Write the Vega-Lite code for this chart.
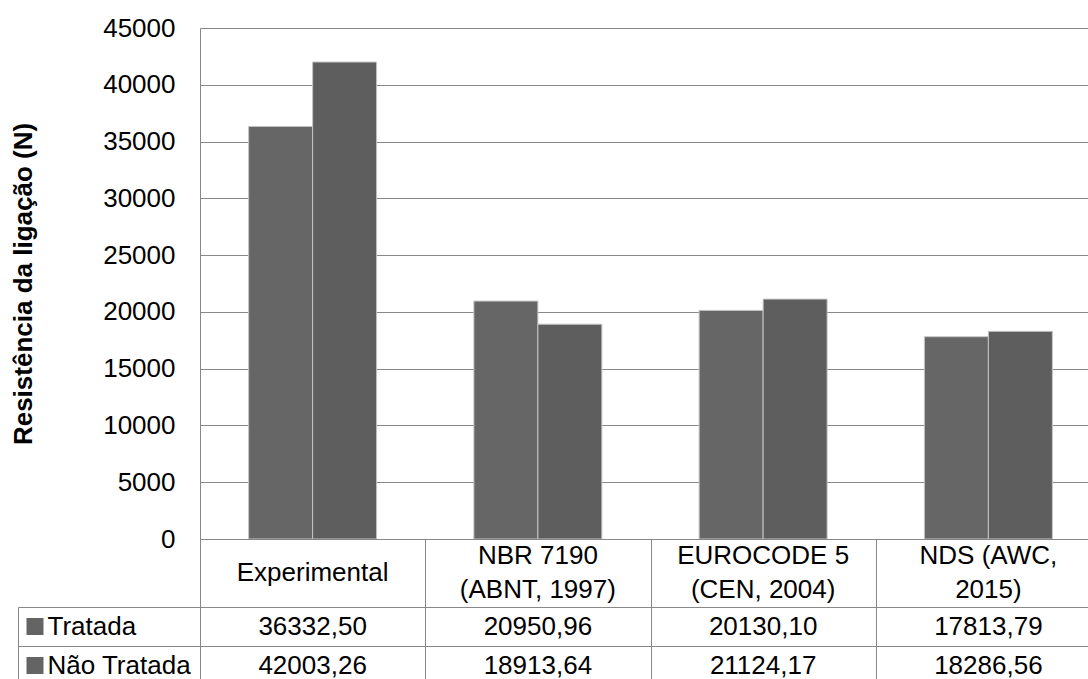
{
  "$schema": "https://vega.github.io/schema/vega-lite/v6.json",
  "autosize": {"type": "none"},
  "padding": {"left": 200, "top": 28, "right": 888, "bottom": 651},
  "background": "white",
  "datasets": {
    "dados": [
      {"categoria": "Experimental", "serie": "Tratada", "valor": 36332.50},
      {"categoria": "Experimental", "serie": "Não Tratada", "valor": 42003.26},
      {"categoria": "NBR 7190 (ABNT, 1997)", "serie": "Tratada", "valor": 20950.96},
      {"categoria": "NBR 7190 (ABNT, 1997)", "serie": "Não Tratada", "valor": 18913.64},
      {"categoria": "EUROCODE 5 (CEN, 2004)", "serie": "Tratada", "valor": 20130.10},
      {"categoria": "EUROCODE 5 (CEN, 2004)", "serie": "Não Tratada", "valor": 21124.17},
      {"categoria": "NDS (AWC, 2015)", "serie": "Tratada", "valor": 17813.79},
      {"categoria": "NDS (AWC, 2015)", "serie": "Não Tratada", "valor": 18286.56}
    ],
    "categorias": [
      {"categoria": "Experimental", "linha": "meio", "texto": "Experimental"},
      {"categoria": "NBR 7190 (ABNT, 1997)", "linha": "cima", "texto": "NBR 7190"},
      {"categoria": "NBR 7190 (ABNT, 1997)", "linha": "baixo", "texto": "(ABNT, 1997)"},
      {"categoria": "EUROCODE 5 (CEN, 2004)", "linha": "cima", "texto": "EUROCODE 5"},
      {"categoria": "EUROCODE 5 (CEN, 2004)", "linha": "baixo", "texto": "(CEN, 2004)"},
      {"categoria": "NDS (AWC, 2015)", "linha": "cima", "texto": "NDS (AWC,"},
      {"categoria": "NDS (AWC, 2015)", "linha": "baixo", "texto": "2015)"}
    ]
  },
  "spacing": 0,
  "bounds": "flush",
  "vconcat": [
    {
      "width": 901,
      "height": 511,
      "view": {"stroke": null},
      "data": {"name": "dados"},
      "mark": {"type": "bar", "stroke": "#c4c4c4", "strokeWidth": 1},
      "encoding": {
        "x": {"field": "categoria", "type": "nominal", "sort": null, "scale": {"paddingInner": 0, "paddingOuter": 0}, "axis": null},
        "xOffset": {"field": "serie", "type": "nominal", "sort": null, "scale": {"paddingInner": 0, "paddingOuter": 0.76}},
        "y": {
          "field": "valor", "type": "quantitative",
          "scale": {"domain": [0, 45000], "nice": false},
          "axis": {
            "title": "Resistência da ligação (N)",
            "values": [0, 5000, 10000, 15000, 20000, 25000, 30000, 35000, 40000, 45000],
            "format": "d",
            "ticks": false,
            "labelPadding": 25,
            "titlePadding": 66,
            "grid": true,
            "domain": true
          }
        },
        "color": {"field": "serie", "type": "nominal", "sort": null, "scale": {"range": ["#666666", "#5e5e5e"]}, "legend": null}
      }
    },
    {
      "width": 901,
      "height": 68,
      "data": {"name": "categorias"},
      "mark": {"type": "text", "fontSize": 26, "baseline": "middle", "color": "#000000"},
      "encoding": {
        "x": {
          "field": "categoria", "type": "nominal", "sort": null,
          "scale": {"paddingInner": 0, "paddingOuter": 0},
          "axis": {"title": null, "labels": false, "ticks": false, "domain": false, "grid": true, "tickBand": "extent"}
        },
        "y": {
          "field": "linha", "type": "nominal",
          "scale": {"type": "point", "domain": ["cima", "meio", "baixo"], "padding": 1.1},
          "axis": null
        },
        "text": {"field": "texto", "type": "nominal"}
      }
    },
    {
      "width": 901,
      "height": 78,
      "data": {"name": "dados"},
      "layer": [
        {
          "mark": {"type": "text", "fontSize": 26, "baseline": "middle", "color": "#000000"},
          "encoding": {
            "x": {
              "field": "categoria", "type": "nominal", "sort": null,
              "scale": {"paddingInner": 0, "paddingOuter": 0},
              "axis": {"title": null, "labels": false, "ticks": false, "domain": false, "grid": true, "tickBand": "extent"}
            },
            "y": {
              "field": "serie", "type": "nominal", "sort": null,
              "scale": {"paddingInner": 0, "paddingOuter": 0},
              "axis": {
                "orient": "left", "title": null, "offset": 157, "domain": false, "grid": false,
                "ticks": true, "tickSize": 17, "tickWidth": 17, "tickColor": "#646464", "tickCap": "butt",
                "labelPadding": -21, "labelAlign": "left", "labelBaseline": "middle"
              }
            },
            "text": {"field": "valor", "type": "quantitative", "format": ".2f"}
          }
        },
        {
          "mark": {"type": "point", "opacity": 0},
          "encoding": {
            "y": {
              "field": "serie", "type": "nominal", "sort": null,
              "axis": {
                "orient": "left", "title": null, "offset": 182, "labels": false,
                "domain": true, "grid": true, "tickBand": "extent",
                "ticks": true, "tickSize": -182, "tickColor": "#888888", "tickWidth": 1
              }
            }
          }
        }
      ],
      "resolve": {"axis": {"y": "independent"}}
    }
  ],
  "config": {
    "font": "Liberation Sans",
    "view": {"stroke": "#888888", "strokeWidth": 1},
    "axis": {
      "labelFont": "Liberation Sans", "labelFontSize": 26, "labelColor": "#000000",
      "titleFont": "Liberation Sans", "titleFontSize": 26, "titleColor": "#000000", "titleFontWeight": "bold",
      "gridColor": "#888888", "gridOpacity": 1, "gridWidth": 1,
      "domainColor": "#888888", "domainWidth": 1
    },
    "locale": {
      "number": {"decimal": ",", "thousands": ".", "grouping": [3], "currency": ["R$", ""]}
    }
  }
}
